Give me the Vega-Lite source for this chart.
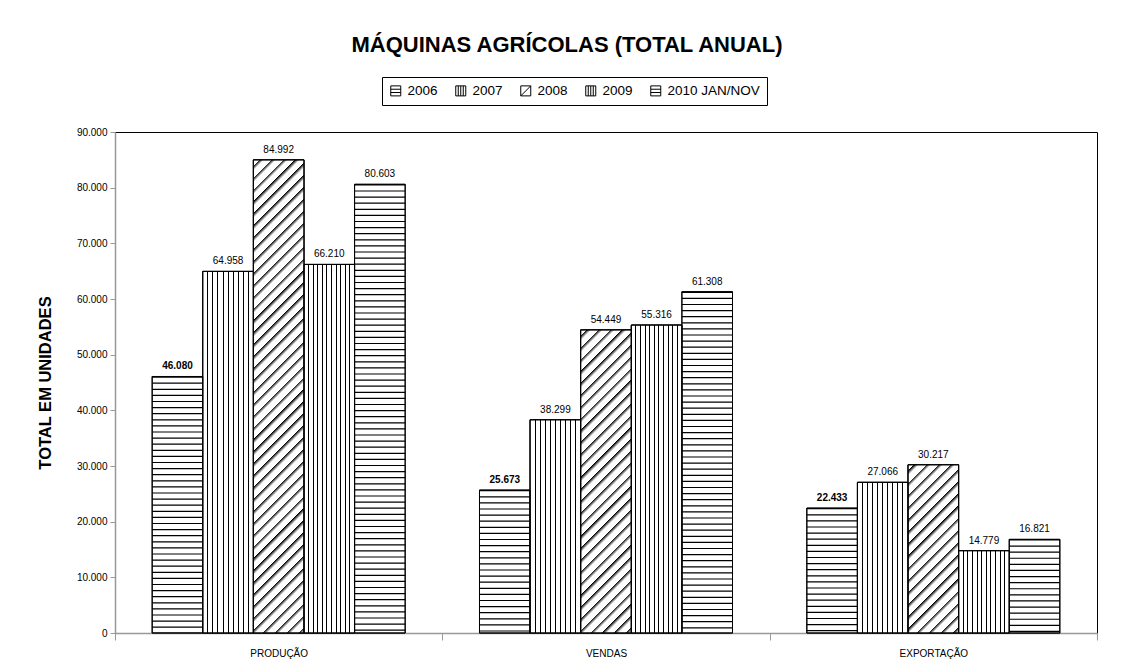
{
 "$schema": "https://vega.github.io/schema/vega-lite/v6.json",
 "width": 982, "height": 501,
 "autosize": {"type": "none"},
 "padding": {"left": 115, "top": 132, "right": 30, "bottom": 35},
 "background": "white",
 "title": {"text": "MÁQUINAS AGRÍCOLAS (TOTAL ANUAL)", "font": "Liberation Sans", "fontSize": 22, "fontWeight": "bold", "color": "#000", "anchor": "middle", "dx": -39, "offset": 20},
 "data": {"values": [
  {"cat": "PRODUÇÃO", "year": "2006", "value": 46080},
  {"cat": "PRODUÇÃO", "year": "2007", "value": 64958},
  {"cat": "PRODUÇÃO", "year": "2008", "value": 84992},
  {"cat": "PRODUÇÃO", "year": "2009", "value": 66210},
  {"cat": "PRODUÇÃO", "year": "2010 JAN/NOV", "value": 80603},
  {"cat": "VENDAS", "year": "2006", "value": 25673},
  {"cat": "VENDAS", "year": "2007", "value": 38299},
  {"cat": "VENDAS", "year": "2008", "value": 54449},
  {"cat": "VENDAS", "year": "2009", "value": 55316},
  {"cat": "VENDAS", "year": "2010 JAN/NOV", "value": 61308},
  {"cat": "EXPORTAÇÃO", "year": "2006", "value": 22433},
  {"cat": "EXPORTAÇÃO", "year": "2007", "value": 27066},
  {"cat": "EXPORTAÇÃO", "year": "2008", "value": 30217},
  {"cat": "EXPORTAÇÃO", "year": "2009", "value": 14779},
  {"cat": "EXPORTAÇÃO", "year": "2010 JAN/NOV", "value": 16821}
 ]},
 "encoding": {
  "x": {"field": "cat", "type": "nominal", "sort": ["PRODUÇÃO", "VENDAS", "EXPORTAÇÃO"], "scale": {"paddingInner": 0, "paddingOuter": 0},
        "axis": {"title": null, "labelAngle": 0, "tickBand": "extent", "tickSize": 7, "tickColor": "#999", "domainColor": "#999", "domainWidth": 1.5, "labelFont": "Liberation Sans", "labelFontSize": 10, "labelColor": "#000", "labelPadding": 8, "grid": false}},
  "xOffset": {"field": "year", "type": "nominal", "sort": ["2006", "2007", "2008", "2009", "2010 JAN/NOV"], "scale": {"domain": ["2006", "2007", "2008", "2009", "2010 JAN/NOV"], "paddingInner": 0, "paddingOuter": 0.7345}},
  "y": {"field": "value", "type": "quantitative", "scale": {"domain": [0, 90000], "nice": false},
        "axis": {"values": [0, 10000, 20000, 30000, 40000, 50000, 60000, 70000, 80000, 90000], "format": ",d", "labelFont": "Liberation Sans", "labelFontSize": 10, "labelColor": "#000", "tickColor": "#999", "domainColor": "#999", "domainWidth": 1.5, "tickSize": 5, "labelPadding": 3, "grid": false,
                 "title": "TOTAL EM UNIDADES", "titleFont": "Liberation Sans", "titleFontSize": 16.5, "titleFontWeight": "bold", "titleColor": "#000", "titlePadding": 23}}
 },
 "layer": [
  {"mark": {"type": "bar", "fill": "white", "stroke": "black", "strokeWidth": 1}},
  {"transform": [{"filter": "datum.year == '2006' || datum.year == '2010 JAN/NOV'"}],
   "mark": {"type": "rule", "color": "black", "strokeWidth": 50.6, "strokeDash": [1.2, 4.9], "strokeCap": "butt"},
   "encoding": {"y2": {"datum": 0}}},
  {"transform": [{"filter": "datum.year == '2007'"}],
   "mark": {"type": "bar", "stroke": "black", "strokeWidth": 1, "fill": {"gradient": "linear", "x1": 0, "y1": 0, "x2": 1, "y2": 0, "stops": [
    {"offset": 0.09, "color": "#fff"}, {"offset": 0.09, "color": "#000"}, {"offset": 0.11, "color": "#000"}, {"offset": 0.11, "color": "#fff"},
    {"offset": 0.19, "color": "#fff"}, {"offset": 0.19, "color": "#000"}, {"offset": 0.21, "color": "#000"}, {"offset": 0.21, "color": "#fff"},
    {"offset": 0.29, "color": "#fff"}, {"offset": 0.29, "color": "#000"}, {"offset": 0.31, "color": "#000"}, {"offset": 0.31, "color": "#fff"},
    {"offset": 0.39, "color": "#fff"}, {"offset": 0.39, "color": "#000"}, {"offset": 0.41, "color": "#000"}, {"offset": 0.41, "color": "#fff"},
    {"offset": 0.49, "color": "#fff"}, {"offset": 0.49, "color": "#000"}, {"offset": 0.51, "color": "#000"}, {"offset": 0.51, "color": "#fff"},
    {"offset": 0.59, "color": "#fff"}, {"offset": 0.59, "color": "#000"}, {"offset": 0.61, "color": "#000"}, {"offset": 0.61, "color": "#fff"},
    {"offset": 0.69, "color": "#fff"}, {"offset": 0.69, "color": "#000"}, {"offset": 0.71, "color": "#000"}, {"offset": 0.71, "color": "#fff"},
    {"offset": 0.79, "color": "#fff"}, {"offset": 0.79, "color": "#000"}, {"offset": 0.81, "color": "#000"}, {"offset": 0.81, "color": "#fff"},
    {"offset": 0.89, "color": "#fff"}, {"offset": 0.89, "color": "#000"}, {"offset": 0.91, "color": "#000"}, {"offset": 0.91, "color": "#fff"}
   ]}}},
  {"transform": [{"filter": "datum.year == '2009'"}],
   "mark": {"type": "bar", "stroke": "black", "strokeWidth": 1, "fill": {"gradient": "linear", "x1": 0, "y1": 0, "x2": 1, "y2": 0, "stops": [
    {"offset": 0.0809, "color": "#fff"}, {"offset": 0.0809, "color": "#000"}, {"offset": 0.1009, "color": "#000"}, {"offset": 0.1009, "color": "#fff"},
    {"offset": 0.1718, "color": "#fff"}, {"offset": 0.1718, "color": "#000"}, {"offset": 0.1918, "color": "#000"}, {"offset": 0.1918, "color": "#fff"},
    {"offset": 0.2627, "color": "#fff"}, {"offset": 0.2627, "color": "#000"}, {"offset": 0.2827, "color": "#000"}, {"offset": 0.2827, "color": "#fff"},
    {"offset": 0.3536, "color": "#fff"}, {"offset": 0.3536, "color": "#000"}, {"offset": 0.3736, "color": "#000"}, {"offset": 0.3736, "color": "#fff"},
    {"offset": 0.4445, "color": "#fff"}, {"offset": 0.4445, "color": "#000"}, {"offset": 0.4645, "color": "#000"}, {"offset": 0.4645, "color": "#fff"},
    {"offset": 0.5355, "color": "#fff"}, {"offset": 0.5355, "color": "#000"}, {"offset": 0.5555, "color": "#000"}, {"offset": 0.5555, "color": "#fff"},
    {"offset": 0.6264, "color": "#fff"}, {"offset": 0.6264, "color": "#000"}, {"offset": 0.6464, "color": "#000"}, {"offset": 0.6464, "color": "#fff"},
    {"offset": 0.7173, "color": "#fff"}, {"offset": 0.7173, "color": "#000"}, {"offset": 0.7373, "color": "#000"}, {"offset": 0.7373, "color": "#fff"},
    {"offset": 0.8082, "color": "#fff"}, {"offset": 0.8082, "color": "#000"}, {"offset": 0.8282, "color": "#000"}, {"offset": 0.8282, "color": "#fff"},
    {"offset": 0.8991, "color": "#fff"}, {"offset": 0.8991, "color": "#000"}, {"offset": 0.9191, "color": "#000"}, {"offset": 0.9191, "color": "#fff"}
   ]}}},
  {"transform": [{"filter": "datum.year == '2008' && datum.cat == 'PRODUÇÃO'"}],
   "mark": {"type": "bar", "stroke": "black", "strokeWidth": 1, "fill": {"gradient": "linear", "x1": 0, "y1": 0, "x2": 0.11705, "y2": 1.09443, "stops": [
    {"offset": 0.01136, "color": "#fff"}, {"offset": 0.01136, "color": "#000"}, {"offset": 0.02056, "color": "#fff"},
    {"offset": 0.03409, "color": "#fff"}, {"offset": 0.03409, "color": "#000"}, {"offset": 0.04329, "color": "#fff"},
    {"offset": 0.05682, "color": "#fff"}, {"offset": 0.05682, "color": "#000"}, {"offset": 0.06602, "color": "#fff"},
    {"offset": 0.07955, "color": "#fff"}, {"offset": 0.07955, "color": "#000"}, {"offset": 0.08875, "color": "#fff"},
    {"offset": 0.10227, "color": "#fff"}, {"offset": 0.10227, "color": "#000"}, {"offset": 0.11147, "color": "#fff"},
    {"offset": 0.125, "color": "#fff"}, {"offset": 0.125, "color": "#000"}, {"offset": 0.1342, "color": "#fff"},
    {"offset": 0.14773, "color": "#fff"}, {"offset": 0.14773, "color": "#000"}, {"offset": 0.15693, "color": "#fff"},
    {"offset": 0.17045, "color": "#fff"}, {"offset": 0.17045, "color": "#000"}, {"offset": 0.17965, "color": "#fff"},
    {"offset": 0.19318, "color": "#fff"}, {"offset": 0.19318, "color": "#000"}, {"offset": 0.20238, "color": "#fff"},
    {"offset": 0.21591, "color": "#fff"}, {"offset": 0.21591, "color": "#000"}, {"offset": 0.22511, "color": "#fff"},
    {"offset": 0.23864, "color": "#fff"}, {"offset": 0.23864, "color": "#000"}, {"offset": 0.24784, "color": "#fff"},
    {"offset": 0.26136, "color": "#fff"}, {"offset": 0.26136, "color": "#000"}, {"offset": 0.27056, "color": "#fff"},
    {"offset": 0.28409, "color": "#fff"}, {"offset": 0.28409, "color": "#000"}, {"offset": 0.29329, "color": "#fff"},
    {"offset": 0.30682, "color": "#fff"}, {"offset": 0.30682, "color": "#000"}, {"offset": 0.31602, "color": "#fff"},
    {"offset": 0.32955, "color": "#fff"}, {"offset": 0.32955, "color": "#000"}, {"offset": 0.33875, "color": "#fff"},
    {"offset": 0.35227, "color": "#fff"}, {"offset": 0.35227, "color": "#000"}, {"offset": 0.36147, "color": "#fff"},
    {"offset": 0.375, "color": "#fff"}, {"offset": 0.375, "color": "#000"}, {"offset": 0.3842, "color": "#fff"},
    {"offset": 0.39773, "color": "#fff"}, {"offset": 0.39773, "color": "#000"}, {"offset": 0.40693, "color": "#fff"},
    {"offset": 0.42045, "color": "#fff"}, {"offset": 0.42045, "color": "#000"}, {"offset": 0.42965, "color": "#fff"},
    {"offset": 0.44318, "color": "#fff"}, {"offset": 0.44318, "color": "#000"}, {"offset": 0.45238, "color": "#fff"},
    {"offset": 0.46591, "color": "#fff"}, {"offset": 0.46591, "color": "#000"}, {"offset": 0.47511, "color": "#fff"},
    {"offset": 0.48864, "color": "#fff"}, {"offset": 0.48864, "color": "#000"}, {"offset": 0.49784, "color": "#fff"},
    {"offset": 0.51136, "color": "#fff"}, {"offset": 0.51136, "color": "#000"}, {"offset": 0.52056, "color": "#fff"},
    {"offset": 0.53409, "color": "#fff"}, {"offset": 0.53409, "color": "#000"}, {"offset": 0.54329, "color": "#fff"},
    {"offset": 0.55682, "color": "#fff"}, {"offset": 0.55682, "color": "#000"}, {"offset": 0.56602, "color": "#fff"},
    {"offset": 0.57955, "color": "#fff"}, {"offset": 0.57955, "color": "#000"}, {"offset": 0.58875, "color": "#fff"},
    {"offset": 0.60227, "color": "#fff"}, {"offset": 0.60227, "color": "#000"}, {"offset": 0.61147, "color": "#fff"},
    {"offset": 0.625, "color": "#fff"}, {"offset": 0.625, "color": "#000"}, {"offset": 0.6342, "color": "#fff"},
    {"offset": 0.64773, "color": "#fff"}, {"offset": 0.64773, "color": "#000"}, {"offset": 0.65693, "color": "#fff"},
    {"offset": 0.67045, "color": "#fff"}, {"offset": 0.67045, "color": "#000"}, {"offset": 0.67965, "color": "#fff"},
    {"offset": 0.69318, "color": "#fff"}, {"offset": 0.69318, "color": "#000"}, {"offset": 0.70238, "color": "#fff"},
    {"offset": 0.71591, "color": "#fff"}, {"offset": 0.71591, "color": "#000"}, {"offset": 0.72511, "color": "#fff"},
    {"offset": 0.73864, "color": "#fff"}, {"offset": 0.73864, "color": "#000"}, {"offset": 0.74784, "color": "#fff"},
    {"offset": 0.76136, "color": "#fff"}, {"offset": 0.76136, "color": "#000"}, {"offset": 0.77056, "color": "#fff"},
    {"offset": 0.78409, "color": "#fff"}, {"offset": 0.78409, "color": "#000"}, {"offset": 0.79329, "color": "#fff"},
    {"offset": 0.80682, "color": "#fff"}, {"offset": 0.80682, "color": "#000"}, {"offset": 0.81602, "color": "#fff"},
    {"offset": 0.82955, "color": "#fff"}, {"offset": 0.82955, "color": "#000"}, {"offset": 0.83875, "color": "#fff"},
    {"offset": 0.85227, "color": "#fff"}, {"offset": 0.85227, "color": "#000"}, {"offset": 0.86147, "color": "#fff"},
    {"offset": 0.875, "color": "#fff"}, {"offset": 0.875, "color": "#000"}, {"offset": 0.8842, "color": "#fff"},
    {"offset": 0.89773, "color": "#fff"}, {"offset": 0.89773, "color": "#000"}, {"offset": 0.90693, "color": "#fff"},
    {"offset": 0.92045, "color": "#fff"}, {"offset": 0.92045, "color": "#000"}, {"offset": 0.92965, "color": "#fff"},
    {"offset": 0.94318, "color": "#fff"}, {"offset": 0.94318, "color": "#000"}, {"offset": 0.95238, "color": "#fff"},
    {"offset": 0.96591, "color": "#fff"}, {"offset": 0.96591, "color": "#000"}, {"offset": 0.97511, "color": "#fff"},
    {"offset": 0.98864, "color": "#fff"}, {"offset": 0.98864, "color": "#000"}, {"offset": 0.99784, "color": "#fff"}
   ]}}},
  {"transform": [{"filter": "datum.year == '2008' && datum.cat == 'VENDAS'"}],
   "mark": {"type": "bar", "stroke": "black", "strokeWidth": 1, "fill": {"gradient": "linear", "x1": 0, "y1": 0, "x2": 0.18953, "y2": 1.1353, "stops": [
    {"offset": 0.01667, "color": "#fff"}, {"offset": 0.01667, "color": "#000"}, {"offset": 0.03027, "color": "#fff"},
    {"offset": 0.05, "color": "#fff"}, {"offset": 0.05, "color": "#000"}, {"offset": 0.0636, "color": "#fff"},
    {"offset": 0.08333, "color": "#fff"}, {"offset": 0.08333, "color": "#000"}, {"offset": 0.09693, "color": "#fff"},
    {"offset": 0.11667, "color": "#fff"}, {"offset": 0.11667, "color": "#000"}, {"offset": 0.13027, "color": "#fff"},
    {"offset": 0.15, "color": "#fff"}, {"offset": 0.15, "color": "#000"}, {"offset": 0.1636, "color": "#fff"},
    {"offset": 0.18333, "color": "#fff"}, {"offset": 0.18333, "color": "#000"}, {"offset": 0.19693, "color": "#fff"},
    {"offset": 0.21667, "color": "#fff"}, {"offset": 0.21667, "color": "#000"}, {"offset": 0.23027, "color": "#fff"},
    {"offset": 0.25, "color": "#fff"}, {"offset": 0.25, "color": "#000"}, {"offset": 0.2636, "color": "#fff"},
    {"offset": 0.28333, "color": "#fff"}, {"offset": 0.28333, "color": "#000"}, {"offset": 0.29693, "color": "#fff"},
    {"offset": 0.31667, "color": "#fff"}, {"offset": 0.31667, "color": "#000"}, {"offset": 0.33027, "color": "#fff"},
    {"offset": 0.35, "color": "#fff"}, {"offset": 0.35, "color": "#000"}, {"offset": 0.3636, "color": "#fff"},
    {"offset": 0.38333, "color": "#fff"}, {"offset": 0.38333, "color": "#000"}, {"offset": 0.39693, "color": "#fff"},
    {"offset": 0.41667, "color": "#fff"}, {"offset": 0.41667, "color": "#000"}, {"offset": 0.43027, "color": "#fff"},
    {"offset": 0.45, "color": "#fff"}, {"offset": 0.45, "color": "#000"}, {"offset": 0.4636, "color": "#fff"},
    {"offset": 0.48333, "color": "#fff"}, {"offset": 0.48333, "color": "#000"}, {"offset": 0.49693, "color": "#fff"},
    {"offset": 0.51667, "color": "#fff"}, {"offset": 0.51667, "color": "#000"}, {"offset": 0.53027, "color": "#fff"},
    {"offset": 0.55, "color": "#fff"}, {"offset": 0.55, "color": "#000"}, {"offset": 0.5636, "color": "#fff"},
    {"offset": 0.58333, "color": "#fff"}, {"offset": 0.58333, "color": "#000"}, {"offset": 0.59693, "color": "#fff"},
    {"offset": 0.61667, "color": "#fff"}, {"offset": 0.61667, "color": "#000"}, {"offset": 0.63027, "color": "#fff"},
    {"offset": 0.65, "color": "#fff"}, {"offset": 0.65, "color": "#000"}, {"offset": 0.6636, "color": "#fff"},
    {"offset": 0.68333, "color": "#fff"}, {"offset": 0.68333, "color": "#000"}, {"offset": 0.69693, "color": "#fff"},
    {"offset": 0.71667, "color": "#fff"}, {"offset": 0.71667, "color": "#000"}, {"offset": 0.73027, "color": "#fff"},
    {"offset": 0.75, "color": "#fff"}, {"offset": 0.75, "color": "#000"}, {"offset": 0.7636, "color": "#fff"},
    {"offset": 0.78333, "color": "#fff"}, {"offset": 0.78333, "color": "#000"}, {"offset": 0.79693, "color": "#fff"},
    {"offset": 0.81667, "color": "#fff"}, {"offset": 0.81667, "color": "#000"}, {"offset": 0.83027, "color": "#fff"},
    {"offset": 0.85, "color": "#fff"}, {"offset": 0.85, "color": "#000"}, {"offset": 0.8636, "color": "#fff"},
    {"offset": 0.88333, "color": "#fff"}, {"offset": 0.88333, "color": "#000"}, {"offset": 0.89693, "color": "#fff"},
    {"offset": 0.91667, "color": "#fff"}, {"offset": 0.91667, "color": "#000"}, {"offset": 0.93027, "color": "#fff"},
    {"offset": 0.95, "color": "#fff"}, {"offset": 0.95, "color": "#000"}, {"offset": 0.9636, "color": "#fff"},
    {"offset": 0.98333, "color": "#fff"}, {"offset": 0.98333, "color": "#000"}, {"offset": 0.99693, "color": "#fff"}
   ]}}},
  {"transform": [{"filter": "datum.year == '2008' && datum.cat == 'EXPORTAÇÃO'"}],
   "mark": {"type": "bar", "stroke": "black", "strokeWidth": 1, "fill": {"gradient": "linear", "x1": 0, "y1": 0, "x2": 0.35885, "y2": 1.19286, "stops": [
    {"offset": 0.02778, "color": "#fff"}, {"offset": 0.02778, "color": "#000"}, {"offset": 0.04968, "color": "#fff"},
    {"offset": 0.08333, "color": "#fff"}, {"offset": 0.08333, "color": "#000"}, {"offset": 0.10523, "color": "#fff"},
    {"offset": 0.13889, "color": "#fff"}, {"offset": 0.13889, "color": "#000"}, {"offset": 0.16079, "color": "#fff"},
    {"offset": 0.19444, "color": "#fff"}, {"offset": 0.19444, "color": "#000"}, {"offset": 0.21634, "color": "#fff"},
    {"offset": 0.25, "color": "#fff"}, {"offset": 0.25, "color": "#000"}, {"offset": 0.2719, "color": "#fff"},
    {"offset": 0.30556, "color": "#fff"}, {"offset": 0.30556, "color": "#000"}, {"offset": 0.32746, "color": "#fff"},
    {"offset": 0.36111, "color": "#fff"}, {"offset": 0.36111, "color": "#000"}, {"offset": 0.38301, "color": "#fff"},
    {"offset": 0.41667, "color": "#fff"}, {"offset": 0.41667, "color": "#000"}, {"offset": 0.43857, "color": "#fff"},
    {"offset": 0.47222, "color": "#fff"}, {"offset": 0.47222, "color": "#000"}, {"offset": 0.49412, "color": "#fff"},
    {"offset": 0.52778, "color": "#fff"}, {"offset": 0.52778, "color": "#000"}, {"offset": 0.54968, "color": "#fff"},
    {"offset": 0.58333, "color": "#fff"}, {"offset": 0.58333, "color": "#000"}, {"offset": 0.60523, "color": "#fff"},
    {"offset": 0.63889, "color": "#fff"}, {"offset": 0.63889, "color": "#000"}, {"offset": 0.66079, "color": "#fff"},
    {"offset": 0.69444, "color": "#fff"}, {"offset": 0.69444, "color": "#000"}, {"offset": 0.71634, "color": "#fff"},
    {"offset": 0.75, "color": "#fff"}, {"offset": 0.75, "color": "#000"}, {"offset": 0.7719, "color": "#fff"},
    {"offset": 0.80556, "color": "#fff"}, {"offset": 0.80556, "color": "#000"}, {"offset": 0.82746, "color": "#fff"},
    {"offset": 0.86111, "color": "#fff"}, {"offset": 0.86111, "color": "#000"}, {"offset": 0.88301, "color": "#fff"},
    {"offset": 0.91667, "color": "#fff"}, {"offset": 0.91667, "color": "#000"}, {"offset": 0.93857, "color": "#fff"},
    {"offset": 0.97222, "color": "#fff"}, {"offset": 0.97222, "color": "#000"}, {"offset": 0.99412, "color": "#fff"}
   ]}}},
  {"mark": {"type": "bar", "fill": "transparent", "stroke": "black", "strokeWidth": 1}},
  {"transform": [{"filter": "datum.year != '2006'"}],
   "mark": {"type": "text", "baseline": "alphabetic", "dy": -7, "font": "Liberation Sans", "fontSize": 10, "color": "#000"},
   "encoding": {"text": {"field": "value", "type": "quantitative", "format": ",d"}}},
  {"transform": [{"filter": "datum.year == '2006'"}],
   "mark": {"type": "text", "baseline": "alphabetic", "dy": -7, "font": "Liberation Sans", "fontSize": 10, "fontWeight": "bold", "color": "#000"},
   "encoding": {"text": {"field": "value", "type": "quantitative", "format": ",d"}}},
  {"mark": {"type": "point", "opacity": 0, "color": "black"},
   "encoding": {"shape": {"field": "year", "type": "nominal", "sort": ["2006", "2007", "2008", "2009", "2010 JAN/NOV"],
     "scale": {"domain": ["2006", "2007", "2008", "2009", "2010 JAN/NOV"], "range": [
       "M-1,-1H1V1H-1Z M-1,-0.33H1 M-1,0.33H1",
       "M-1,-1H1V1H-1Z M-0.5,-1V1 M0,-1V1 M0.5,-1V1",
       "M-1,-1H1V1H-1Z M-1,1L1,-1",
       "M-1,-1H1V1H-1Z M-0.5,-1V1 M0,-1V1 M0.5,-1V1",
       "M-1,-1H1V1H-1Z M-1,-0.33H1 M-1,0.33H1"]},
     "legend": {"title": null, "orient": "none", "legendX": 267, "legendY": -55, "direction": "horizontal", "strokeColor": "black", "fillColor": "white", "padding": 7,
       "symbolSize": 100, "symbolStrokeColor": "black", "symbolFillColor": "white", "symbolStrokeWidth": 1, "symbolOpacity": 1,
       "labelFont": "Liberation Sans", "labelFontSize": 13.5, "labelColor": "#000", "labelOffset": 5, "columnPadding": 15}}}}
 ],
 "config": {
  "locale": {"number": {"decimal": ",", "thousands": ".", "grouping": [3], "currency": ["R$", ""]}},
  "view": {"stroke": "black", "strokeWidth": 1},
  "font": "Liberation Sans"
 }
}
